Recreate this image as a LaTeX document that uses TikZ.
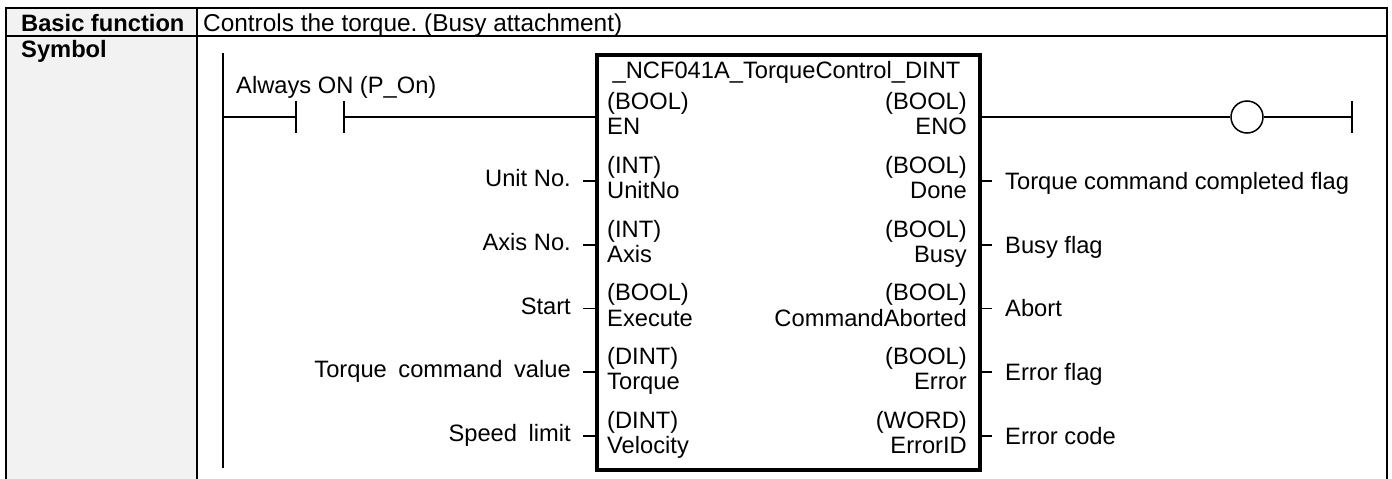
\documentclass[tikz,border=0pt]{standalone}
\usepackage{fontspec}
\setmainfont{Liberation Sans}
\frenchspacing
\newcommand\diagfont{\fontsize{23.7pt}{28pt}\selectfont}
\newcommand\descfont{\fontsize{24.4pt}{28pt}\selectfont}
\definecolor{cellgray}{HTML}{F2F2F2}
\begin{document}
\begin{tikzpicture}[x=1pt,y=-1pt,
  wire/.style={line width=1.5pt},
  tbl/.style={line width=2.4pt},
  lbl/.style={inner sep=0pt, font=\diagfont},
  hdr/.style={inner sep=0pt, font=\diagfont\bfseries}]
\fill[white] (0,0) rectangle (1392,479);
\useasboundingbox (0,0) rectangle (1392,479);
% table
\fill[cellgray] (6,8) rectangle (197,479);
\draw[tbl] (6,479) -- (6,8) -- (1387,8) -- (1387,479);
\draw[tbl] (6,36) -- (1387,36);
\draw[tbl] (197,8) -- (197,479);
\node[hdr, anchor=base west] (hbf) at (21,31) {Basic function};
\node[hdr, anchor=base west] (hsym) at (21,57) {Symbol};
\node[inner sep=0pt, font=\descfont, anchor=base west] (desc) at (203,31) {Controls the torque. (Busy attachment)};
% function block
\node[draw, line width=3.5pt, minimum width=383pt, minimum height=415pt, inner sep=0pt, anchor=north west] (fb) at (595,53) {};
\node[lbl, anchor=base] (title) at (786.5,78) {\_NCF041A\_TorqueControl\_DINT};
% rails and rung
\coordinate (railtop) at (223,53);
\coordinate (railbot) at (223,468);
\draw[wire] (railtop) -- (railbot);
\coordinate (rungL) at (223,117);
\coordinate (cA) at (296,117);
\coordinate (cB) at (344,117);
\draw[wire] (296,101) -- (296,133);
\draw[wire] (344,101) -- (344,133);
\draw[wire] (rungL) -- (cA);
\draw[wire] (cB) -- (fb.west |- cB);
\node[lbl, anchor=base west] (always) at (236,93) {Always ON (P\_On)};
\node[draw, circle, wire, minimum size=32pt, inner sep=0pt] (coil) at (1247,117) {};
\coordinate (endmid) at (1352,117);
\draw[wire] (1352,101) -- (1352,133);
\draw[wire] (fb.east |- coil) -- (coil) -- (endmid);
% EN / ENO texts
\node[lbl, anchor=base west] at (607,109) {(BOOL)};
\node[lbl, anchor=base west] at (607,134.5) {EN};
\node[lbl, anchor=base east] at (967,109) {(BOOL)};
\node[lbl, anchor=base east] at (967,134.5) {ENO};
% inputs
\foreach \y/\ty/\nm/\lab in {
  181/(INT)/UnitNo/{Unit No.},
  245/(INT)/Axis/{Axis No.},
  308.5/(BOOL)/Execute/{Start},
  372/(DINT)/Torque/{Torque\hspace{0.49em}command\hspace{0.49em}value},
  436/(DINT)/Velocity/{Speed\hspace{0.49em}limit}}{
  \coordinate (in\nm) at (583,\y);
  \draw[wire] (in\nm) -- (fb.west |- in\nm);
  \node[lbl, anchor=base east] (lab\nm) at (571,\y+5.5) {\lab};
  \node[lbl, anchor=base west] (ty\nm) at (607,\y-8) {\ty};
  \node[lbl, anchor=base west] (nm\nm) at (607,\y+17.5) {\nm};
}
% outputs
\foreach \y/\ty/\nm/\lab in {
  181/(BOOL)/Done/{Torque command completed flag},
  245/(BOOL)/Busy/{Busy flag},
  308.5/(BOOL)/CommandAborted/{Abort},
  372/(BOOL)/Error/{Error flag},
  436/(WORD)/ErrorID/{Error code}}{
  \coordinate (out\nm) at (992,\y);
  \draw[wire] (fb.east |- out\nm) -- (out\nm);
  \node[lbl, anchor=base west] (olab\nm) at (1005,\y+8) {\lab};
  \node[lbl, anchor=base east] (oty\nm) at (967,\y-8) {\ty};
  \node[lbl, anchor=base east] (onm\nm) at (967,\y+17.5) {\nm};
}
\end{tikzpicture}
\end{document}
